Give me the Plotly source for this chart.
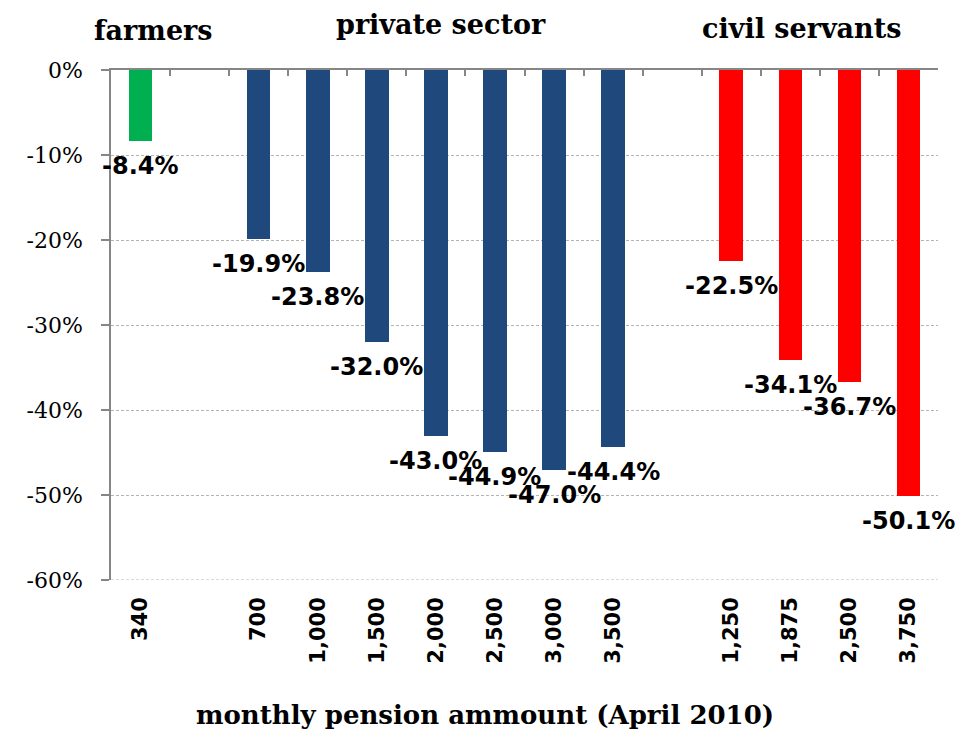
import plotly.graph_objects as go

# ---- data ----
group_names = ["farmers", "private sector", "civil servants"]
farmers_labels = ["340"]
farmers_values = [-8.4]
private_labels = ["700", "1,000", "1,500", "2,000", "2,500", "3,000", "3,500"]
private_values = [-19.9, -23.8, -32.0, -43.0, -44.9, -47.0, -44.4]
civil_labels = ["1,250", "1,875", "2,500", "3,750"]
civil_values = [-22.5, -34.1, -36.7, -50.1]
group_colors = ["#00B050", "#1F497D", "#FF0000"]
y_ticks = [0, -10, -20, -30, -40, -50, -60]
x_title = "monthly pension ammount (April 2010)"

groups = [
    (farmers_labels, farmers_values),
    (private_labels, private_values),
    (civil_labels, civil_values),
]

# positions: one empty slot between groups
pos = 0
group_pos = []
for labels, values in groups:
    xs = list(range(pos, pos + len(labels)))
    group_pos.append(xs)
    pos += len(labels) + 1
n_slots = pos - 1

fig = go.Figure()
tickvals, ticktext = [], []
annotations = []
for (labels, values), xs, color in zip(groups, group_pos, group_colors):
    fig.add_trace(go.Bar(
        x=xs, y=values, marker=dict(color=color, line=dict(width=0)),
        width=0.4, showlegend=False, hoverinfo="skip",
    ))
    tickvals += xs
    ticktext += labels
    for x, v in zip(xs, values):
        annotations.append(dict(
            x=x, y=v, xref="x", yref="y", text=f"{v:.1f}%", showarrow=False,
            yanchor="top", xanchor="center", yshift=-9,
            font=dict(family="DejaVu Sans", size=24, color="black", weight="bold"),
        ))

# group titles
title_shift = [(13, 40), (5, 46), (-18, 42)]
for name, xs, (dx, dy) in zip(group_names, group_pos, title_shift):
    annotations.append(dict(
        x=(xs[0] + xs[-1]) / 2, y=1, xref="x", yref="paper", text=name,
        showarrow=False, xanchor="center", yanchor="middle", xshift=dx, yshift=dy,
        font=dict(family="DejaVu Serif", size=27, color="black", weight="bold"),
    ))

annotations.append(dict(
    x=0.5, y=0, xref="paper", yref="paper", text=x_title, showarrow=False,
    xanchor="center", yanchor="middle", xshift=-40, yshift=-135,
    font=dict(family="DejaVu Serif", size=26, color="black", weight="bold"),
))

# invisible trace on top axis to draw the zero-line tick marks
boundaries = [i - 0.5 for i in range(n_slots + 1)]
fig.add_trace(go.Scatter(x=[boundaries[0], boundaries[-1]], y=[0, 0], xaxis="x2",
                         mode="lines", line=dict(width=0), showlegend=False, hoverinfo="skip"))

# bottom gridline at the lowest tick (edge of plot area)
fig.add_shape(type="line", xref="paper", yref="y", x0=0, x1=1,
              y0=min(y_ticks), y1=min(y_ticks),
              line=dict(color="#B4B4B4", width=1, dash="3px,2px"), layer="below")

fig.update_layout(
    width=958, height=731,
    margin=dict(l=111, r=20, t=70, b=151),
    plot_bgcolor="white", paper_bgcolor="white",
    bargap=0,
    annotations=annotations,
    xaxis=dict(
        range=[-0.5, n_slots - 0.5], tickmode="array", tickvals=tickvals, ticktext=ticktext,
        tickangle=-90, showgrid=False, zeroline=False, showline=False, ticks="",
        tickfont=dict(family="DejaVu Sans", size=21, color="black", weight="bold"),
        ticklabelstandoff=12, automargin=False,
    ),
    xaxis2=dict(
        overlaying="x", side="top", anchor="y", range=[-0.5, n_slots - 0.5],
        tickmode="array", tickvals=boundaries, showticklabels=False,
        ticks="inside", ticklen=6, tickwidth=1.5, tickcolor="#868686",
        showline=True, linecolor="#868686", linewidth=2, showgrid=False, zeroline=False,
    ),
    yaxis=dict(
        range=[-60, 0], tickmode="array", tickvals=y_ticks,
        ticktext=[f"{t}%" for t in y_ticks],
        showgrid=True, gridcolor="#B4B4B4", griddash="3px,2px", gridwidth=1,
        zeroline=False, showline=True, linecolor="#868686", linewidth=1.5,
        ticks="outside", ticklen=8, tickcolor="#868686", tickwidth=1.5,
        tickfont=dict(family="DejaVu Serif", size=22, color="black"),
        ticklabelstandoff=14, automargin=False,
    ),
)

fig.write_html("out.html", config={"displayModeBar": False},
               post_script="document.body.style.margin='0px';")
